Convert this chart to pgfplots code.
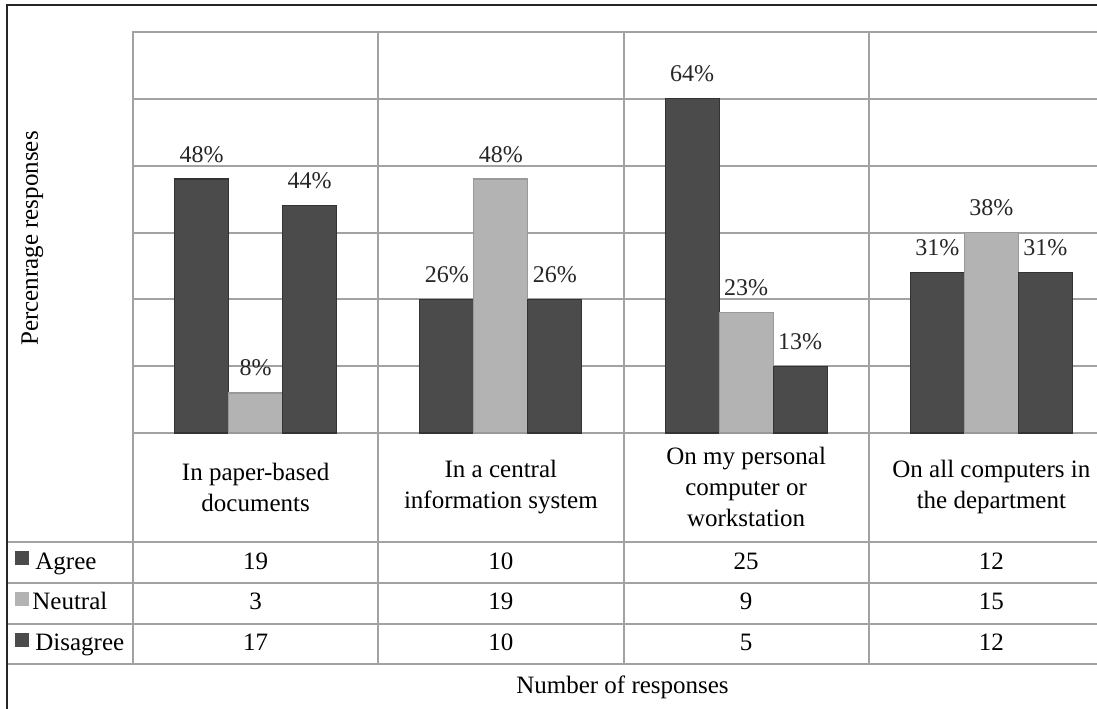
\documentclass[border=0pt]{standalone}
\usepackage{pgfplots}
\pgfplotsset{compat=1.18}
\usepackage{fontspec}
\setmainfont{Liberation Serif}
\definecolor{darkbar}{HTML}{4B4B4B}
\definecolor{lightbar}{HTML}{B3B3B3}
\definecolor{gridc}{HTML}{A2A2A2}
\tikzset{tv/.style={anchor=base, font=\fontsize{12.5}{15}\selectfont}}
\begin{document}
\begin{tikzpicture}[x=1pt,y=1pt]
\begin{axis}[
  scale only axis,
  width=490.5pt, height=200.5pt,
  xmin=-0.5, xmax=3.5, ymin=0, ymax=30,
  ybar=0pt, bar width=27pt,
  xtick={-0.5,0.5,1.5,2.5,3.5}, xticklabels={},
  ytick={0,5,...,30}, yticklabels={},
  major tick length=0pt,
  xmajorgrids, ymajorgrids,
  grid style={gridc, line width=1pt},
  axis line style={gridc, line width=1pt},
  clip=false,
  nodes near coords, point meta=explicit symbolic,
  nodes near coords style={font=\fontsize{12}{14}\selectfont, anchor=south, inner sep=0pt, yshift=8pt, text=black!85},
]
\addplot[fill=darkbar, draw=black!80, line width=0.6pt] coordinates {(0,19) [48\%] (1,10) [26\%] (2,25) [64\%] (3,12) [31\%]};
\addplot[fill=lightbar, draw=black!40, line width=0.6pt] coordinates {(0,3) [8\%] (1,19) [48\%] (2,9) [23\%] (3,15) [38\%]};
\addplot[fill=darkbar, draw=black!80, line width=0.6pt] coordinates {(0,17) [44\%] (1,10) [26\%] (2,5) [13\%] (3,12) [31\%]};
\coordinate (O) at (axis cs:-0.5,0);
% category labels
\node[align=center, font=\fontsize{12.5}{15.5}\selectfont, yshift=-27pt] at (axis cs:0,0) {In paper-based\\documents};
\node[align=center, font=\fontsize{12.5}{15.5}\selectfont, yshift=-27pt] at (axis cs:1,0) {In a central\\information system};
\node[align=center, font=\fontsize{12.5}{15.5}\selectfont, yshift=-27pt] at (axis cs:2,0) {On my personal\\computer or\\workstation};
\node[align=center, font=\fontsize{12.5}{15.5}\selectfont, yshift=-27pt] at (axis cs:3,0) {On all computers in\\the department};
% table values (counts)
\node[tv, yshift=-68pt] at (axis cs:0,0) {19};
\node[tv, yshift=-68pt] at (axis cs:1,0) {10};
\node[tv, yshift=-68pt] at (axis cs:2,0) {25};
\node[tv, yshift=-68pt] at (axis cs:3,0) {12};
\node[tv, yshift=-88pt] at (axis cs:0,0) {3};
\node[tv, yshift=-88pt] at (axis cs:1,0) {19};
\node[tv, yshift=-88pt] at (axis cs:2,0) {9};
\node[tv, yshift=-88pt] at (axis cs:3,0) {15};
\node[tv, yshift=-108.7pt] at (axis cs:0,0) {17};
\node[tv, yshift=-108.7pt] at (axis cs:1,0) {10};
\node[tv, yshift=-108.7pt] at (axis cs:2,0) {5};
\node[tv, yshift=-108.7pt] at (axis cs:3,0) {12};
\end{axis}
\pgfresetboundingbox
\begin{scope}[shift={(O)}, xshift=-66.5pt, yshift=-137.5pt]
\path[use as bounding box] (0,0) rectangle (548.5,354);
% table lines
\foreach \yy in {83,62.5,42,22} \draw[gridc, line width=1pt] (3.5,\yy) -- (560,\yy);
\foreach \xx in {66.5,189,312,434.5} \draw[gridc, line width=1pt] (\xx,137.5) -- (\xx,22);
% row labels
\fill[darkbar] (7.5,71.5) rectangle (14.5,78.5);
\fill[lightbar] (7.5,51) rectangle (14.5,58);
\fill[darkbar] (7.5,30.5) rectangle (14.5,37.5);
\node[anchor=base west, inner sep=0pt, font=\fontsize{12.5}{15}\selectfont] at (17.5,69.5) {Agree};
\node[anchor=base west, inner sep=0pt, font=\fontsize{12.5}{15}\selectfont] at (16,49.5) {Neutral};
\node[anchor=base west, inner sep=0pt, font=\fontsize{12.5}{15}\selectfont] at (17.5,28.8) {Disagree};
% axis titles
\node[anchor=base, font=\fontsize{12.5}{15}\selectfont] at (311.25,7.5) {Number of responses};
\node[anchor=base, rotate=90, font=\fontsize{12.5}{15}\selectfont] at (19,234.75) {Percenrage responses};
% outer frame
\draw[black!85, line width=1pt] (3.75,-5) -- (3.75,351.5) -- (560,351.5);
\end{scope}
\end{tikzpicture}
\end{document}
